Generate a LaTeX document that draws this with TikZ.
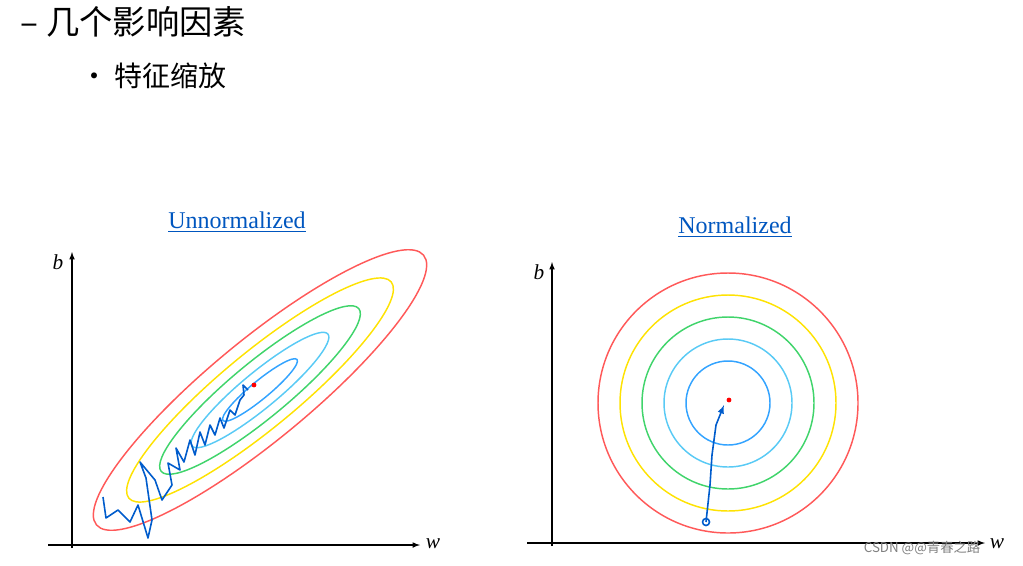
\documentclass[tikz,border=0pt]{standalone}
\usepackage{fontspec}
\setmainfont{Liberation Serif}
\newfontfamily\cjk{Noto Sans CJK SC}
\begin{document}
\begin{tikzpicture}[x=0.75pt,y=-0.75pt,
  ax/.style={line width=0.9pt,-latex},
  ring/.style={line width=1.1pt},
  lab/.style={font=\itshape\fontsize{16}{18}\selectfont},
  traj/.style={draw=blue!55!cyan!80!black,line width=1.2pt,line join=round},
  ttl/.style={font=\fontsize{18}{21}\selectfont,text=blue!55!cyan!75!black,anchor=center}]
\useasboundingbox (0,0) rectangle (1023,565);
\node[anchor=west,font=\cjk\fontsize{25}{28}\selectfont] (h1) at (16,22) {– 几个影响因素};
\node[anchor=west,font=\cjk\fontsize{21}{24}\selectfont] (h2) at (76,76) {•\ 特征缩放};
\node[ttl] (tl) at (237,222) {\underline{Unnormalized}};
\node[ttl] (tr) at (735,227) {\underline{Normalized}};
% left axes
\draw[ax] (48,545) -- (420,545);
\node[lab] (lw) at (433,544) {w};
\draw[ax] (72,548) -- (72,252);
\node[lab] (lb) at (58,262) {b};
\begin{scope}[shift={(260,390)},rotate=39.5]
\draw[ring,red!65] (0,0) ellipse (212 and 50);
\draw[ring,yellow!85!orange] (0,0) ellipse (170 and 38);
\draw[ring,green!55!teal!75] (0,0) ellipse (128 and 28);
\draw[ring,cyan!65] (0,0) ellipse (88 and 18);
\draw[ring,blue!45!cyan!80] (0,0) ellipse (48 and 9);
\end{scope}
\draw[traj] (103,497) -- (106,518) -- (118,510) -- (130,522) -- (138,505) -- (148,538) -- (152,520) -- (146,478) -- (140,462) -- (155,480) -- (162,500) -- (172,485) -- (168,463) -- (180,470) -- (176,448) -- (184,462) -- (190,440) -- (195,455) -- (200,432) -- (205,445) -- (210,425) -- (215,435) -- (220,418) -- (224,428) -- (230,410) -- (235,415) -- (240,400) -- (244,395) -- (243,385) -- (248,390);
\fill[red] (254,385) circle (2.4);
% right axes
\draw[ax] (527,543) -- (985,543);
\node[lab] (rw) at (997,544) {w};
\draw[ax] (552,546) -- (552,262);
\node[lab] (rb) at (539,272) {b};
\draw[ring,red!65] (728,403) circle (130);
\draw[ring,yellow!85!orange] (728,403) circle (108);
\draw[ring,green!55!teal!75] (728,403) circle (86);
\draw[ring,cyan!65] (728,403) circle (64);
\draw[ring,blue!45!cyan!80] (728,403) circle (42);
\draw[traj,-latex] (706,522) -- (710,485) -- (712,455) -- (716,425) -- (724,405);
\draw[traj] (706,522) circle (3.5);
\fill[red] (729,400) circle (2.4);
\node[anchor=east,font=\cjk\fontsize{10}{12}\selectfont,text=gray] (wm) at (985,548) {CSDN @@青春之路};
\end{tikzpicture}
\end{document}
